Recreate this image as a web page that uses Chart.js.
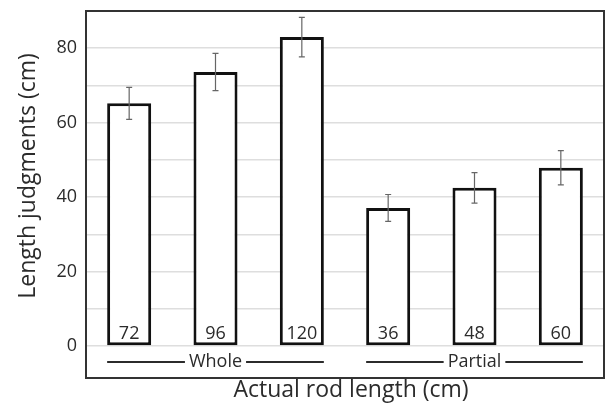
<!DOCTYPE html>
<html>
<head>
<meta charset="utf-8">
<script src="https://cdn.jsdelivr.net/npm/chart.js@4/dist/chart.umd.min.js"></script>
<style>
  body { margin: 0; background: #fff; }
  #wrap { width: 605px; height: 406px; }
</style>
</head>
<body>
<div id="wrap"><canvas id="chart" width="605" height="406"></canvas></div>
<script>
// rod lengths shown inside the bars
var rodLengths = ['72', '96', '120', '36', '48', '60'];
// mean judged length and error bar size
var judged = [65.2, 73.6, 83.0, 37.1, 42.5, 47.9];
var errors = [4.3, 5.0, 5.3, 3.6, 4.1, 4.6];
// condition groups: name, first bar, last bar
var groupNames = ['Whole', 'Partial'];
var groupStart = [0, 3];
var groupEnd = [2, 5];
var gridValues = [0, 10, 20, 30, 40, 50, 60, 70, 80];

var fam = "'Open Sans', sans-serif";
var ink = '#2b2b2b';

var extras = {
  id: 'extras',
  afterDatasetsDraw: function (chart) {
    var ctx = chart.ctx;
    var y = chart.scales.y;
    var bars = chart.getDatasetMeta(0).data;
    var area = chart.chartArea;
    var zero = y.getPixelForValue(0);
    ctx.save();

    // error bars
    ctx.strokeStyle = '#666';
    ctx.lineWidth = 1.2;
    bars.forEach(function (b, i) {
      var hi = y.getPixelForValue(judged[i] + errors[i]);
      var lo = y.getPixelForValue(judged[i] - errors[i]);
      ctx.beginPath();
      ctx.moveTo(b.x, hi); ctx.lineTo(b.x, lo);
      ctx.moveTo(b.x - 3, hi); ctx.lineTo(b.x + 3, hi);
      ctx.moveTo(b.x - 3, lo); ctx.lineTo(b.x + 3, lo);
      ctx.stroke();
    });

    // rod length labels inside bars
    ctx.fillStyle = ink;
    ctx.font = '18px ' + fam;
    ctx.textAlign = 'center';
    ctx.textBaseline = 'middle';
    bars.forEach(function (b, i) {
      ctx.fillText(rodLengths[i], b.x, zero - 12);
    });

    // group labels with lines
    var gy = zero + 16;
    ctx.strokeStyle = ink;
    ctx.lineWidth = 2;
    groupNames.forEach(function (name, g) {
      var first = bars[groupStart[g]], last = bars[groupEnd[g]];
      var x0 = first.x - first.width / 2, x1 = last.x + last.width / 2;
      var cx = (first.x + last.x) / 2;
      var w = ctx.measureText(name).width;
      ctx.fillText(name, cx, gy);
      ctx.beginPath();
      ctx.moveTo(x0, gy); ctx.lineTo(cx - w / 2 - 4, gy);
      ctx.moveTo(cx + w / 2 + 4, gy); ctx.lineTo(x1, gy);
      ctx.stroke();
    });

    // frame
    ctx.strokeStyle = '#333';
    ctx.lineWidth = 2;
    ctx.strokeRect(area.left, area.top, area.right - area.left, area.bottom - area.top);

    // axis titles
    ctx.font = '23px ' + fam;
    ctx.fillText('Actual rod length (cm)', 351, 390);
    ctx.translate(28, 176);
    ctx.rotate(-Math.PI / 2);
    ctx.fillText('Length judgments (cm)', 0, 0);
    ctx.restore();
  }
};

new Chart(document.getElementById('chart'), {
  type: 'bar',
  data: {
    labels: rodLengths,
    datasets: [{
      data: judged,
      backgroundColor: '#fff',
      borderColor: '#111',
      borderWidth: 3,
      borderSkipped: false,
      categoryPercentage: 1,
      barPercentage: 0.51
    }]
  },
  options: {
    responsive: false,
    animation: false,
    layout: { padding: { top: 11, right: 1, left: 0, bottom: 0 } },
    plugins: { legend: { display: false }, tooltip: { enabled: false } },
    scales: {
      x: {
        grid: { display: false },
        border: { display: false },
        ticks: { display: false },
        afterFit: function (s) { s.height = 28; }
      },
      y: {
        min: -8.6,
        max: 90,
        afterBuildTicks: function (s) {
          s.ticks = gridValues.map(function (v) { return { value: v }; });
        },
        ticks: {
          color: ink,
          padding: 9,
          font: { family: fam, size: 18 },
          callback: function (v) { return v % 20 === 0 ? v : ''; }
        },
        grid: { color: '#dedede', lineWidth: 1.5, drawTicks: false },
        border: { display: false },
        afterFit: function (s) {
          s.width = 86;
          s.paddingTop = 0;
          s.paddingBottom = 0;
        }
      }
    }
  },
  plugins: [extras]
});
</script>
</body>
</html>
